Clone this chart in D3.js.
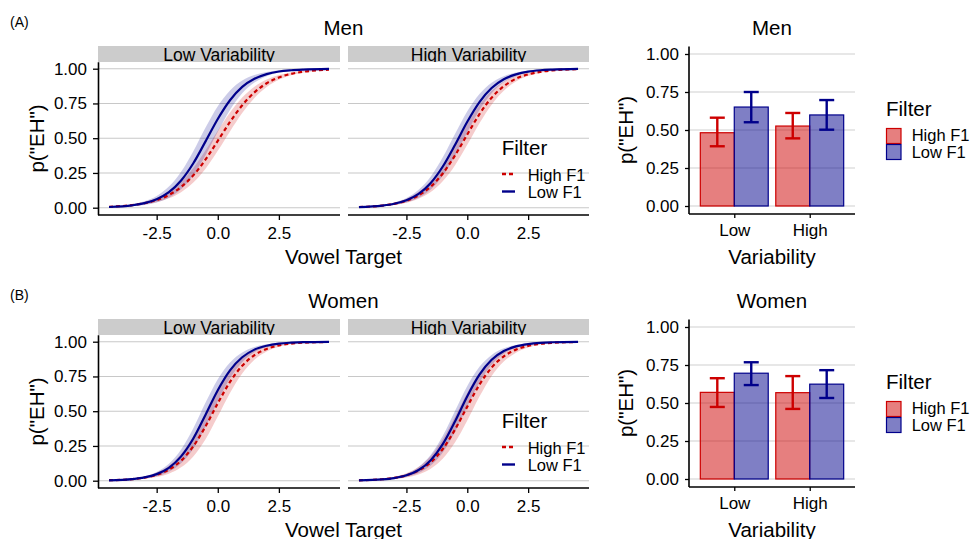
<!DOCTYPE html>
<html><head><meta charset="utf-8">
<script src="https://cdn.jsdelivr.net/npm/d3@7"></script>
<style>body{margin:0;background:#fff} text{font-family:"Liberation Sans",Arial,Helvetica,sans-serif;fill:#000}</style>
</head><body><svg id="c" width="972" height="539"></svg>
<script>
// ---------- data ----------
const vowelTarget = [-4.45,-3.5,-3,-2.5,-2,-1.5,-1,-0.5,0,0.5,1,1.5,2,2.5,3,3.5,4.55];
const facets = ["Low Variability","High Variability"];
const filters = ["High F1","Low F1"];

const menLowVarHighF1   = [0.0066,0.0187,0.0320,0.0547,0.0912,0.149,0.233,0.347,0.481,0.617,0.737,0.830,0.895,0.937,0.963,0.978,0.993];
const menLowVarHighF1Se = [0.002,0.005,0.009,0.015,0.024,0.037,0.052,0.066,0.072,0.068,0.056,0.041,0.027,0.017,0.010,0.006,0.002];
const menLowVarLowF1    = [0.0049,0.0171,0.0326,0.0613,0.112,0.196,0.320,0.477,0.638,0.773,0.869,0.927,0.961,0.980,0.989,0.994,0.9986];
const menLowVarLowF1Se  = [0.002,0.007,0.013,0.023,0.040,0.063,0.087,0.100,0.092,0.070,0.046,0.027,0.015,0.008,0.004,0.002,0.001];

const menHighVarHighF1   = [0.0049,0.0154,0.0279,0.0502,0.0887,0.152,0.248,0.377,0.527,0.673,0.791,0.874,0.928,0.959,0.977,0.988,0.9965];
const menHighVarHighF1Se = [0.001,0.005,0.008,0.014,0.024,0.039,0.056,0.071,0.075,0.066,0.050,0.033,0.020,0.012,0.007,0.004,0.001];
const menHighVarLowF1    = [0.0042,0.0146,0.0282,0.0537,0.0997,0.178,0.298,0.453,0.618,0.760,0.861,0.924,0.959,0.979,0.989,0.994,0.9986];
const menHighVarLowF1Se  = [0.001,0.005,0.009,0.016,0.029,0.047,0.067,0.079,0.076,0.058,0.038,0.022,0.013,0.007,0.004,0.002,0.000];

const womenLowVarHighF1   = [0.0032,0.0114,0.0221,0.0423,0.0794,0.144,0.248,0.391,0.557,0.711,0.827,0.904,0.948,0.973,0.986,0.993,0.998];
const womenLowVarHighF1Se = [0.001,0.004,0.008,0.016,0.029,0.048,0.073,0.093,0.096,0.080,0.056,0.034,0.019,0.010,0.005,0.003,0.001];
const womenLowVarLowF1    = [0.0029,0.0115,0.0234,0.0474,0.0928,0.175,0.304,0.475,0.651,0.794,0.888,0.943,0.971,0.986,0.993,0.997,0.9993];
const womenLowVarLowF1Se  = [0.001,0.004,0.008,0.016,0.029,0.050,0.074,0.087,0.079,0.057,0.035,0.019,0.010,0.005,0.002,0.001,0.000];

const womenHighVarHighF1   = [0.0029,0.0104,0.0200,0.0385,0.0725,0.132,0.230,0.369,0.533,0.691,0.814,0.895,0.943,0.970,0.985,0.992,0.998];
const womenHighVarHighF1Se = [0.001,0.004,0.008,0.015,0.027,0.046,0.071,0.093,0.100,0.086,0.060,0.038,0.022,0.012,0.006,0.003,0.001];
const womenHighVarLowF1    = [0.0023,0.0093,0.0191,0.0388,0.0773,0.148,0.265,0.428,0.608,0.763,0.870,0.933,0.966,0.983,0.992,0.996,0.9992];
const womenHighVarLowF1Se  = [0.001,0.003,0.006,0.012,0.022,0.039,0.060,0.076,0.074,0.056,0.035,0.019,0.010,0.005,0.002,0.001,0.000];

const variability = ["Low","High"];
const menHighF1Mean = [0.482,0.526], menHighF1Lo = [0.393,0.445], menHighF1Hi = [0.581,0.612];
const menLowF1Mean  = [0.651,0.599], menLowF1Lo  = [0.551,0.502], menLowF1Hi  = [0.750,0.697];
const womenHighF1Mean = [0.570,0.568], womenHighF1Lo = [0.474,0.461], womenHighF1Hi = [0.663,0.677];
const womenLowF1Mean  = [0.696,0.624], womenLowF1Lo  = [0.618,0.533], womenLowF1Hi  = [0.768,0.716];

const yTicks = [0,0.25,0.5,0.75,1];
const xTicks = [-2.5,0,2.5];

// ---------- styles ----------
const RED = "#CD0000", BLUE = "#00008B";
const svg = d3.select("#c");
const fmtX = d => d3.format(".1f")(d).replace("\u2212","-");
const fmtY = d3.format(".2f");

function styleAxis(ax, tickFs){
  ax.select(".domain").attr("stroke","#000").attr("stroke-width",1.6);
  ax.selectAll(".tick line").attr("stroke","#000").attr("stroke-width",1.3);
  ax.selectAll(".tick text").attr("font-size",tickFs).attr("fill","#1a1a1a")
    .style("font-family",'"Liberation Sans",Arial,sans-serif');
}

function row(off, tag, title, curveSets, bars){
  const g = svg.append("g").attr("transform",`translate(0,${off})`);
  g.append("text").attr("x",10).attr("y",27).attr("font-size",14).text(tag);
  g.append("text").attr("x",343.5).attr("y",35).attr("font-size",20.5).attr("text-anchor","middle").text(title);

  const y = d3.scaleLinear().domain([-0.05,1.05]).range([214.65,61.75]);
  const panels = [[98,340],[348,589]];
  panels.forEach((px,i)=>{
    const x = d3.scaleLinear().domain([-4.9,5.0]).range(px);
    const pg = g.append("g");
    pg.selectAll("line.grid").data(yTicks).join("line")
      .attr("x1",px[0]).attr("x2",px[1]).attr("y1",d=>y(d)).attr("y2",d=>y(d))
      .attr("stroke","#C8C8C8").attr("stroke-width",1.1);
    const cid = `clip${off}_${i}`;
    pg.append("clipPath").attr("id",cid).append("rect").attr("x",px[0]).attr("y",46).attr("width",px[1]-px[0]).attr("height",16);
    pg.append("rect").attr("x",px[0]).attr("y",46).attr("width",px[1]-px[0]).attr("height",16).attr("fill","#CCCCCC");
    pg.append("text").attr("clip-path",`url(#${cid})`).attr("x",(px[0]+px[1])/2).attr("y",60.5)
      .attr("text-anchor","middle").attr("font-size",17.5).attr("fill","#1a1a1a").text(facets[i]);
    const sets = curveSets[i];
    const area = d3.area().curve(d3.curveMonotoneX).x((d,j)=>x(vowelTarget[j]));
    const line = d3.line().curve(d3.curveMonotoneX).x((d,j)=>x(vowelTarget[j])).y(d=>y(d));
    sets.forEach(s=>{
      pg.append("path").datum(s.p)
        .attr("d", area.y0((d,j)=>y(d - s.se[j])).y1((d,j)=>y(d + s.se[j])))
        .attr("fill",s.col).attr("fill-opacity",0.2).attr("stroke","none");
    });
    sets.forEach(s=>{
      pg.append("path").datum(s.p).attr("d",line).attr("fill","none")
        .attr("stroke",s.col).attr("stroke-width",2.2)
        .attr("stroke-dasharray",s.dash||null);
    });
    const ax = pg.append("g").attr("transform","translate(0,215)")
      .call(d3.axisBottom(x).tickValues(xTicks).tickFormat(fmtX).tickSize(5).tickPadding(6.5).tickSizeOuter(0));
    ax.select(".domain").attr("d",`M${px[0]},0H${px[1]}`);
    styleAxis(ax,17);
    if(i===0){
      const ay = pg.append("g").attr("transform",`translate(${px[0]},0)`)
        .call(d3.axisLeft(y).tickValues(yTicks).tickFormat(fmtY).tickSize(5).tickPadding(6).tickSizeOuter(0));
      styleAxis(ay,17);
    }
    if(i===1){
      g.append("text").attr("x",501.7).attr("y",155).attr("font-size",20.5).text("Filter");
      const lk = [{col:RED,dash:"4,3",y:174,lab:"High F1",ty:181},{col:BLUE,dash:null,y:191.5,lab:"Low F1",ty:198}];
      lk.forEach(k=>{
        g.append("line").attr("x1",502).attr("x2",515).attr("y1",k.y).attr("y2",k.y)
          .attr("stroke",k.col).attr("stroke-width",2.4).attr("stroke-dasharray",k.dash);
        g.append("text").attr("x",527.7).attr("y",k.ty).attr("font-size",16.5).text(k.lab);
      });
    }
  });
  g.append("text").attr("x",343.5).attr("y",263.5).attr("font-size",20.5).attr("text-anchor","middle").text("Vowel Target");
  g.append("text").attr("transform","translate(44,138.5) rotate(-90)").attr("font-size",20.5).attr("text-anchor","middle").text('p("EH")');

  // ----- bar chart -----
  const yb = d3.scaleLinear().domain([-0.05,1.05]).range([213.6,46.4]);
  const xb = d3.scalePoint().domain(variability).range([689,855]).padding(0.6);
  const step = xb.step(), bw = step*0.9/2;
  const bg = g.append("g");
  bg.selectAll("line.grid").data(yTicks).join("line")
    .attr("x1",689).attr("x2",855).attr("y1",d=>yb(d)).attr("y2",d=>yb(d))
    .attr("stroke","#D0D0D0").attr("stroke-width",1.1);
  bars.forEach((b,fi)=>{
    variability.forEach((v,vi)=>{
      const cx = xb(v) + (fi===0 ? -bw/2 : bw/2);
      bg.append("rect").attr("x",cx-bw/2).attr("width",bw)
        .attr("y",yb(b.mean[vi])).attr("height",yb(0)-yb(b.mean[vi]))
        .attr("fill",b.col).attr("fill-opacity",0.5).attr("stroke",b.col).attr("stroke-width",1.2);
    });
  });
  bars.forEach((b,fi)=>{
    variability.forEach((v,vi)=>{
      const cx = xb(v) + (fi===0 ? -bw/2 : bw/2);
      const eg = bg.append("g").attr("stroke",b.col).attr("stroke-width",2.4).attr("fill","none");
      eg.append("line").attr("x1",cx).attr("x2",cx).attr("y1",yb(b.lo[vi])).attr("y2",yb(b.hi[vi]));
      eg.append("line").attr("x1",cx-7.5).attr("x2",cx+7.5).attr("y1",yb(b.lo[vi])).attr("y2",yb(b.lo[vi]));
      eg.append("line").attr("x1",cx-7.5).attr("x2",cx+7.5).attr("y1",yb(b.hi[vi])).attr("y2",yb(b.hi[vi]));
    });
  });
  const bax = bg.append("g").attr("transform","translate(0,214)")
    .call(d3.axisBottom(xb).tickSize(4).tickPadding(6).tickSizeOuter(0));
  bax.select(".domain").attr("d","M689,0H855");
  styleAxis(bax,17);
  const bay = bg.append("g").attr("transform","translate(689,0)")
    .call(d3.axisLeft(yb).tickValues(yTicks).tickFormat(fmtY).tickSize(4).tickPadding(6).tickSizeOuter(0));
  bay.select(".domain").attr("d","M0,46.4V214");
  styleAxis(bay,17);
  g.append("text").attr("x",772).attr("y",35).attr("font-size",20.5).attr("text-anchor","middle").text(title);
  g.append("text").attr("x",772).attr("y",264).attr("font-size",20.5).attr("text-anchor","middle").text("Variability");
  g.append("text").attr("transform","translate(633,130) rotate(-90)").attr("font-size",20.5).attr("text-anchor","middle").text('p("EH")');
  g.append("text").attr("x",886).attr("y",115.5).attr("font-size",20.5).text("Filter");
  bars.forEach((b,fi)=>{
    g.append("rect").attr("x",886.5).attr("y",128.5+fi*16).attr("width",14.5).attr("height",15)
      .attr("fill",b.col).attr("fill-opacity",0.5).attr("stroke",b.col).attr("stroke-width",1.2);
    g.append("text").attr("x",911.7).attr("y",141+fi*17).attr("font-size",16.5).text(filters[fi]);
  });
}

row(0,"(A)","Men",
  [[{p:menLowVarHighF1,se:menLowVarHighF1Se,col:RED,dash:"4,3"},{p:menLowVarLowF1,se:menLowVarLowF1Se,col:BLUE}],
   [{p:menHighVarHighF1,se:menHighVarHighF1Se,col:RED,dash:"4,3"},{p:menHighVarLowF1,se:menHighVarLowF1Se,col:BLUE}]],
  [{mean:menHighF1Mean,lo:menHighF1Lo,hi:menHighF1Hi,col:RED},{mean:menLowF1Mean,lo:menLowF1Lo,hi:menLowF1Hi,col:BLUE}]);
row(273,"(B)","Women",
  [[{p:womenLowVarHighF1,se:womenLowVarHighF1Se,col:RED,dash:"4,3"},{p:womenLowVarLowF1,se:womenLowVarLowF1Se,col:BLUE}],
   [{p:womenHighVarHighF1,se:womenHighVarHighF1Se,col:RED,dash:"4,3"},{p:womenHighVarLowF1,se:womenHighVarLowF1Se,col:BLUE}]],
  [{mean:womenHighF1Mean,lo:womenHighF1Lo,hi:womenHighF1Hi,col:RED},{mean:womenLowF1Mean,lo:womenLowF1Lo,hi:womenLowF1Hi,col:BLUE}]);
</script></body></html>
